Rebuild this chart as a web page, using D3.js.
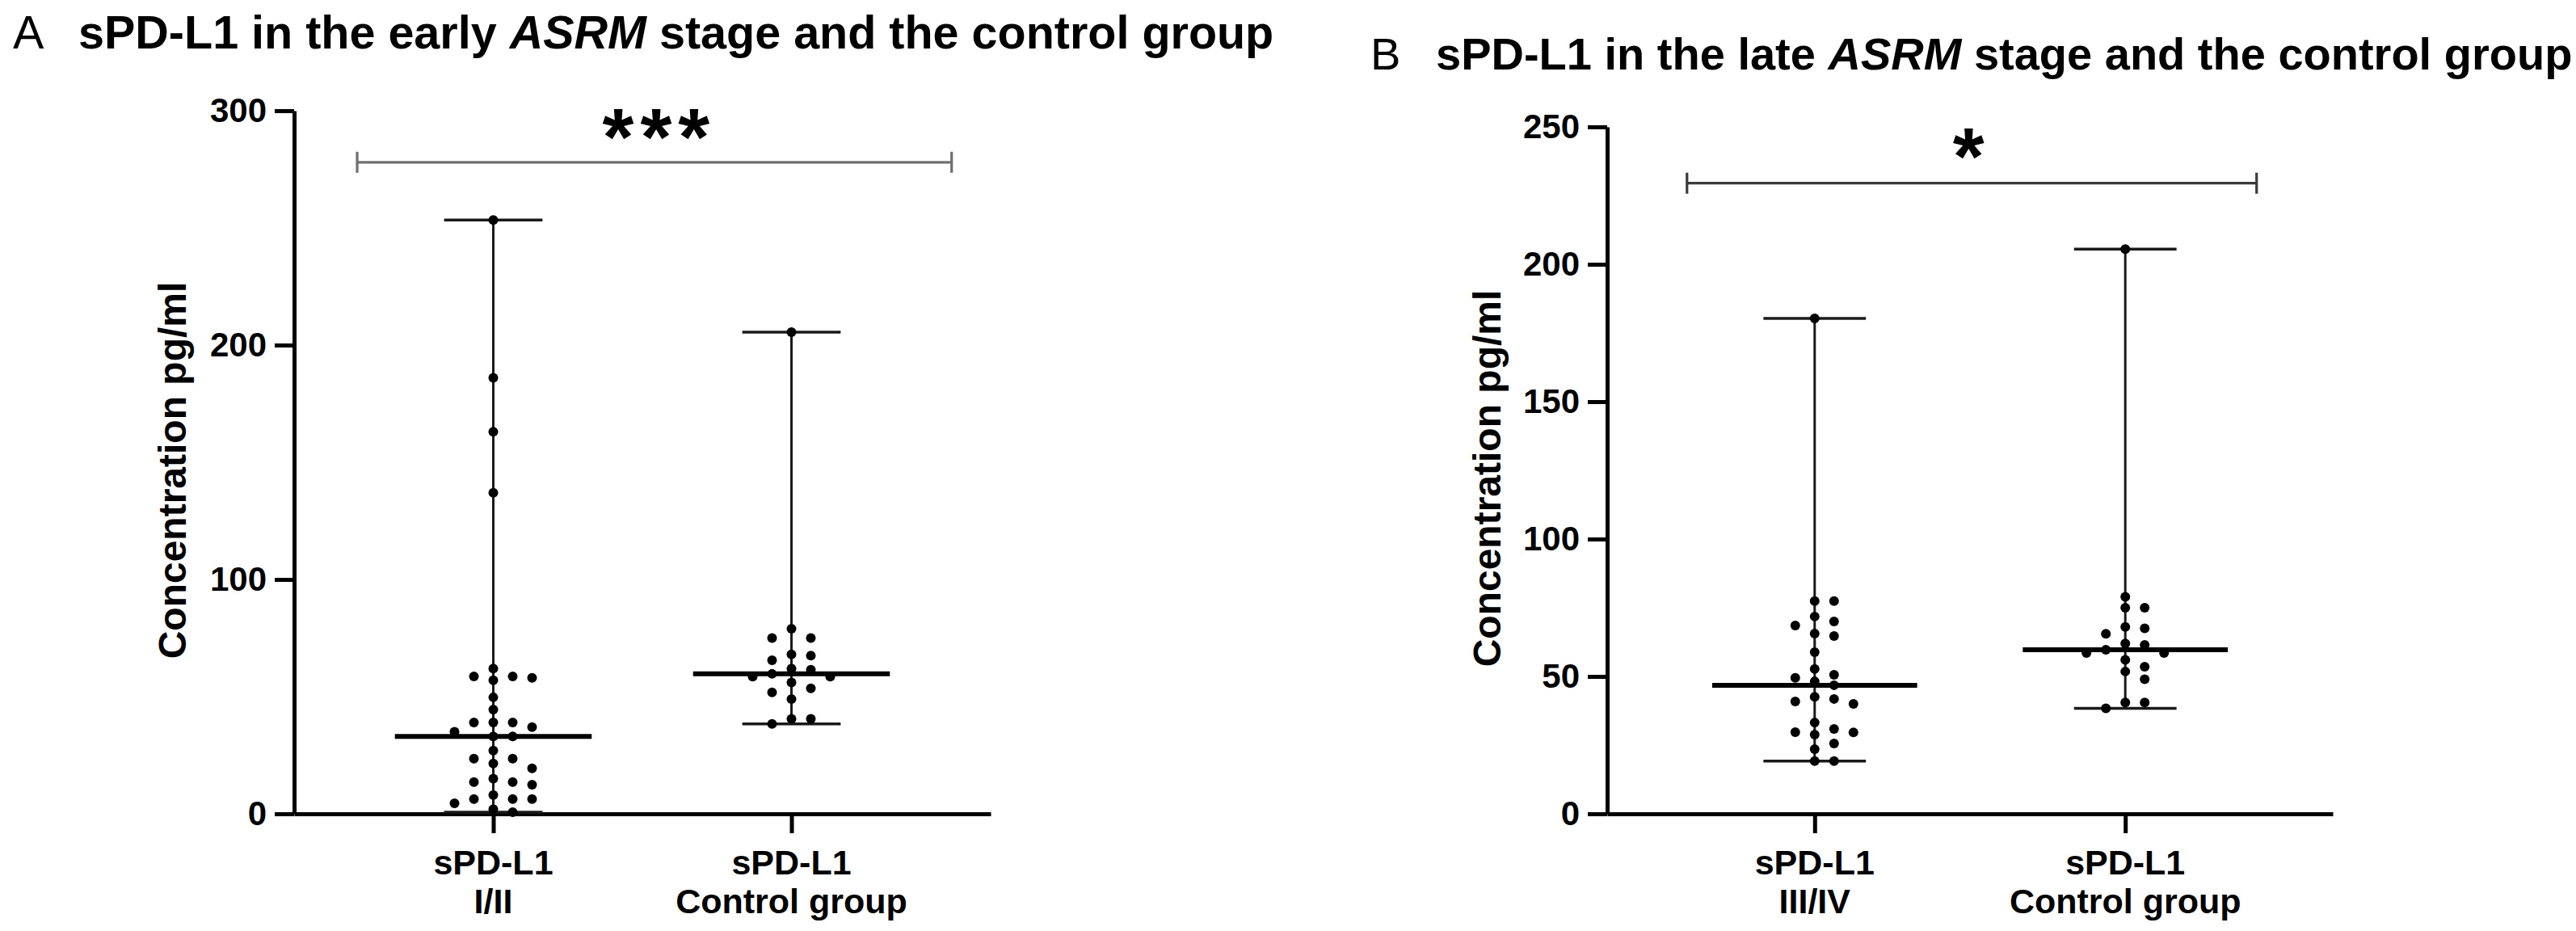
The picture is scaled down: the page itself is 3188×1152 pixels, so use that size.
<!DOCTYPE html>
<html><head><meta charset="utf-8">
<script src="https://cdn.jsdelivr.net/npm/d3@7"></script>
<style>
html,body{margin:0;padding:0;background:#fff;}
svg{display:block;}
text{font-family:"Liberation Sans",Arial,Helvetica,sans-serif;fill:#000;}
</style>
</head><body>
<svg id="chart" width="3188" height="1152"></svg>
<script>
// ---------------- data ----------------
const earlyStage = [253.4, 186, 163, 137, 62, 58.6, 58.6, 58, 57, 49.7, 44.5, 39, 39, 39, 37, 35, 33, 33,
  27, 23.5, 23.5, 21.5, 19.4, 15, 13.5, 13.5, 12.4, 8, 6.3, 6.3, 6.3, 4.5, 2, 0.7];
const lateStage = [180.3, 77.4, 77.4, 71.8, 70, 68.5, 65.6, 64.7, 58.8, 52.7, 50.6, 49.5, 48.2, 46.8,
  42.6, 41.8, 40.9, 40, 33.2, 30.9, 29.7, 29.6, 28.8, 25.6, 23.5, 19.2, 19.2];
const controlGroup = [205.5, 79, 75, 75, 68, 67.5, 65.5, 62, 61.5, 59.7, 58.5, 58.5, 56, 53.5, 51.8, 49,
  40.5, 40.5, 38.4];

const groupsA = ["I/II", "Control group"];
const groupsB = ["III/IV", "Control group"];
const groupPrefix = "sPD-L1";
const ticksA = [0, 100, 200, 300];
const ticksB = [0, 50, 100, 150, 200, 250];
const yDomainA = [0, 300];
const yDomainB = [0, 250];
const yLabel = "Concentration pg/ml";
const titleA = ["A", "sPD-L1 in the early ", "ASRM", " stage and the control group"];
const titleB = ["B", "sPD-L1 in the late ", "ASRM", " stage and the control group"];
const sigA = "***";
const sigB = "*";
const bracketValueA = 278;   // height of the significance bar, data units
const bracketValueB = 229.5;

// ---------------- layout ----------------
const svg = d3.select("#chart");
svg.append("rect").attr("width", 3188).attr("height", 1152).attr("fill", "#fff");

const panels = [
  { groups: groupsA, series: [earlyStage, controlGroup], ticks: ticksA, yDomain: yDomainA,
    xRange: [364, 1226], yRange: [1007, 137], title: titleA, titleX: [16, 97], titleY: 60, titleSize: 57.5,
    labelX: 230, sig: sigA, sigY: 204, bracketValue: bracketValueA, bracketFrac: [0.0905, 0.944],
    bracketColor: "#6f6f6f" },
  { groups: groupsB, series: [lateStage, controlGroup], ticks: ticksB, yDomain: yDomainB,
    xRange: [1989, 2887], yRange: [1007, 157], title: titleB, titleX: [1696, 1777], titleY: 86, titleSize: 56,
    labelX: 1857, sig: sigB, sigY: 228, bracketValue: bracketValueB, bracketFrac: [0.110, 0.895],
    bracketColor: "#3a3a3a" }
];

function swarm(values, y, cx) {
  const colStep = 23, rowGap = 12.5, step = 12;
  const pts = values.map(v => ({ v, y: y(v), dx: 0 }));
  const order = pts.slice().sort((a, b) => a.y - b.y);
  const cand = [0];
  for (let k = 1; k <= 10; k++) cand.push(k * step, -k * step);
  const placed = [];
  for (const p of order) {
    for (const c of cand) {
      if (placed.every(q => Math.abs(q.dx - c) >= colStep || Math.abs(q.y - p.y) >= rowGap)) { p.dx = c; break; }
    }
    placed.push(p);
  }
  pts.forEach(p => p.x = cx + p.dx);
  return pts;
}

panels.forEach(P => {
  const g = svg.append("g");
  const x = d3.scalePoint().domain(P.groups).range(P.xRange).padding(0.668);
  const y = d3.scaleLinear().domain(P.yDomain).range(P.yRange);
  const step = x.step();

  // title
  const t = g.append("text").attr("y", P.titleY).attr("font-size", P.titleSize);
  t.append("tspan").attr("x", P.titleX[0]).text(P.title[0]);
  t.append("tspan").attr("x", P.titleX[1]).attr("font-weight", "bold").text(P.title[1]);
  t.append("tspan").attr("font-weight", "bold").attr("font-style", "italic").text(P.title[2]);
  t.append("tspan").attr("font-weight", "bold").text(P.title[3]);

  // y axis
  const yAxis = g.append("g").attr("transform", `translate(${P.xRange[0]},0)`)
    .call(d3.axisLeft(y).tickValues(P.ticks).tickSize(24).tickSizeOuter(0).tickPadding(10).tickFormat(d3.format("d")));
  yAxis.select(".domain").attr("stroke", "#000").attr("stroke-width", 5);
  yAxis.selectAll(".tick line").attr("stroke", "#000").attr("stroke-width", 5);
  yAxis.selectAll(".tick text").attr("font-size", 42).attr("font-weight", "bold")
    .attr("font-family", "Liberation Sans, Arial, sans-serif").attr("fill", "#000");

  // x axis
  const xAxis = g.append("g").attr("transform", `translate(0,${P.yRange[0]})`)
    .call(d3.axisBottom(x).tickSize(24).tickSizeOuter(0).tickFormat(() => ""));
  xAxis.select(".domain").attr("stroke", "#000").attr("stroke-width", 5);
  xAxis.selectAll(".tick line").attr("stroke", "#000").attr("stroke-width", 5);
  P.groups.forEach(gr => {
    const tx = g.append("text").attr("text-anchor", "middle").attr("font-size", 43).attr("font-weight", "bold");
    tx.append("tspan").attr("x", x(gr)).attr("y", P.yRange[0] + 75).text(groupPrefix);
    tx.append("tspan").attr("x", x(gr)).attr("y", P.yRange[0] + 123).text(gr);
  });

  // y label
  g.append("text").attr("transform", `translate(${P.labelX},${(y(P.yDomain[0]) + y(P.yDomain[1])) / 2 + 10}) rotate(-90)`)
    .attr("text-anchor", "middle").attr("font-size", 48).attr("font-weight", "bold").text(yLabel);

  // series
  P.groups.forEach((gr, i) => {
    const vals = P.series[i];
    const cx = x(gr);
    const [mn, mx] = d3.extent(vals);
    const med = d3.median(vals);
    const capH = step * 0.165, medH = step * 0.33;
    g.append("line").attr("x1", cx).attr("x2", cx).attr("y1", y(mn)).attr("y2", y(mx))
      .attr("stroke", "#1a1a1a").attr("stroke-width", 3);
    [mn, mx].forEach(v => g.append("line").attr("x1", cx - capH).attr("x2", cx + capH)
      .attr("y1", y(v)).attr("y2", y(v)).attr("stroke", "#1a1a1a").attr("stroke-width", 3.5));
    const pts = swarm(vals, y, cx);
    g.append("g").selectAll("circle").data(pts).join("circle")
      .attr("cx", d => d.x).attr("cy", d => d.y).attr("r", 6).attr("fill", "#000");
    g.append("line").attr("x1", cx - medH).attr("x2", cx + medH).attr("y1", y(med)).attr("y2", y(med))
      .attr("stroke", "#000").attr("stroke-width", 6);
  });

  // significance bracket
  const bx0 = P.xRange[0] + P.bracketFrac[0] * (P.xRange[1] - P.xRange[0]);
  const bx1 = P.xRange[0] + P.bracketFrac[1] * (P.xRange[1] - P.xRange[0]);
  const by = y(P.bracketValue);
  const br = g.append("g").attr("stroke", P.bracketColor).attr("stroke-width", 3.2);
  br.append("line").attr("x1", bx0).attr("x2", bx1).attr("y1", by).attr("y2", by);
  br.append("line").attr("x1", bx0).attr("x2", bx0).attr("y1", by - 13).attr("y2", by + 13);
  br.append("line").attr("x1", bx1).attr("x2", bx1).attr("y1", by - 13).attr("y2", by + 13);
  g.append("text").attr("x", (bx0 + bx1) / 2 + (P.sig.length > 1 ? 6 : -4)).attr("y", P.sigY)
    .attr("text-anchor", "middle").attr("font-size", 100).attr("font-weight", "bold")
    .attr("letter-spacing", P.sig.length > 1 ? 8 : 0).text(P.sig);
});
</script>
</body></html>
